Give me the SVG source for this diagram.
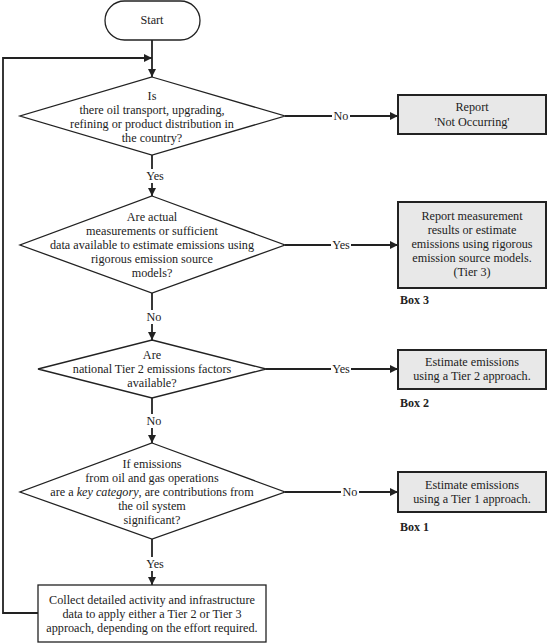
<svg xmlns="http://www.w3.org/2000/svg" width="550" height="644" viewBox="0 0 550 644">
<defs>
<marker id="ah" viewBox="0 0 10 10" refX="10" refY="5" markerWidth="8" markerHeight="8" markerUnits="userSpaceOnUse" orient="auto">
<path d="M0,0 L10,5 L0,10 z" fill="#222"/>
</marker>
<style>
text{font-family:"Liberation Serif","Times New Roman",serif;font-size:12.2px;fill:#222;text-anchor:middle}
.n{fill:#fff;stroke:#222;stroke-width:1.3}
.g{fill:#e8e8e8;stroke:#222;stroke-width:2}
.c{fill:none;stroke:#222;stroke-width:1.8}
.lb{fill:#fff}
.bx{font-weight:bold;text-anchor:start;font-size:12px}
</style>
</defs>
<rect width="550" height="644" fill="#fff"/>
<g id="connectors">
<path class="c" d="M152,40 V77" marker-end="url(#ah)"/>
<path class="c" d="M38,613 H3 V58 H152" marker-end="url(#ah)"/>
<path class="c" d="M285,116 H398" marker-end="url(#ah)"/>
<path class="c" d="M152,155 V196" marker-end="url(#ah)"/>
<path class="c" d="M285,245 H398" marker-end="url(#ah)"/>
<path class="c" d="M152,293 V340" marker-end="url(#ah)"/>
<path class="c" d="M266,369 H398" marker-end="url(#ah)"/>
<path class="c" d="M152,398 V443" marker-end="url(#ah)"/>
<path class="c" d="M285,492 H398" marker-end="url(#ah)"/>
<path class="c" d="M152,539 V585" marker-end="url(#ah)"/>
<rect class="lb" x="332" y="109" width="18" height="14"/>
<text x="341" y="120">No</text>
<rect class="lb" x="145" y="169" width="20" height="14"/>
<text x="155" y="180">Yes</text>
<rect class="lb" x="331" y="238" width="20" height="14"/>
<text x="341" y="249">Yes</text>
<rect class="lb" x="145" y="310" width="18" height="14"/>
<text x="154" y="321">No</text>
<rect class="lb" x="331" y="362" width="20" height="14"/>
<text x="341" y="373">Yes</text>
<rect class="lb" x="145" y="414" width="18" height="14"/>
<text x="154" y="425">No</text>
<rect class="lb" x="341" y="485" width="18" height="14"/>
<text x="350" y="496">No</text>
<rect class="lb" x="145" y="557" width="20" height="14"/>
<text x="155" y="568">Yes</text>
</g>
<g id="start">
<rect class="n" x="105" y="1" width="95" height="39" rx="19.5"/>
<text x="152" y="24">Start</text>
</g>
<g id="q1">
<polygon class="n" points="152,77 285,116 152,155 20,116"/>
<text x="152" y="100">Is</text>
<text x="152" y="114">there oil transport, upgrading,</text>
<text x="152" y="128">refining or product distribution in</text>
<text x="152" y="142">the country?</text>
</g>
<g id="notoccurring">
<rect class="g" x="398" y="95" width="148" height="39"/>
<text x="472" y="111">Report</text>
<text x="472" y="126">'Not Occurring'</text>
</g>
<g id="q2">
<polygon class="n" points="152,196 285,245 152,293 20,245"/>
<text x="152" y="221">Are actual</text>
<text x="152" y="235">measurements or sufficient</text>
<text x="152" y="249">data available to estimate emissions using</text>
<text x="152" y="263">rigorous emission source</text>
<text x="152" y="277">models?</text>
</g>
<g id="box3">
<rect class="g" x="398" y="202" width="148" height="86"/>
<text x="472" y="220">Report measurement</text>
<text x="472" y="234">results or estimate</text>
<text x="472" y="248">emissions using rigorous</text>
<text x="472" y="262">emission source models.</text>
<text x="472" y="276">(Tier 3)</text>
<text class="bx" x="400" y="304">Box 3</text>
</g>
<g id="q3">
<polygon class="n" points="152,340 266,369 152,398 38,369"/>
<text x="152" y="359">Are</text>
<text x="152" y="373">national Tier 2 emissions factors</text>
<text x="152" y="387">available?</text>
</g>
<g id="box2">
<rect class="g" x="398" y="350" width="148" height="39"/>
<text x="472" y="366">Estimate emissions</text>
<text x="472" y="380">using a Tier 2 approach.</text>
<text class="bx" x="400" y="407">Box 2</text>
</g>
<g id="q4">
<polygon class="n" points="152,443 285,492 152,539 20,492"/>
<text x="152" y="468">If emissions</text>
<text x="152" y="482">from oil and gas operations</text>
<text x="152" y="496">are a <tspan font-style="italic">key category</tspan>, are contributions from</text>
<text x="152" y="510">the oil system</text>
<text x="152" y="524">significant?</text>
</g>
<g id="box1">
<rect class="g" x="398" y="472" width="148" height="40"/>
<text x="472" y="489">Estimate emissions</text>
<text x="472" y="503">using a Tier 1 approach.</text>
<text class="bx" x="400" y="531">Box 1</text>
</g>
<g id="collect">
<rect class="n" x="38" y="585" width="228" height="57"/>
<text x="152" y="604">Collect detailed activity and infrastructure</text>
<text x="152" y="618">data to apply either a Tier 2 or Tier 3</text>
<text x="152" y="632">approach, depending on the effort required.</text>
</g>
</svg>
